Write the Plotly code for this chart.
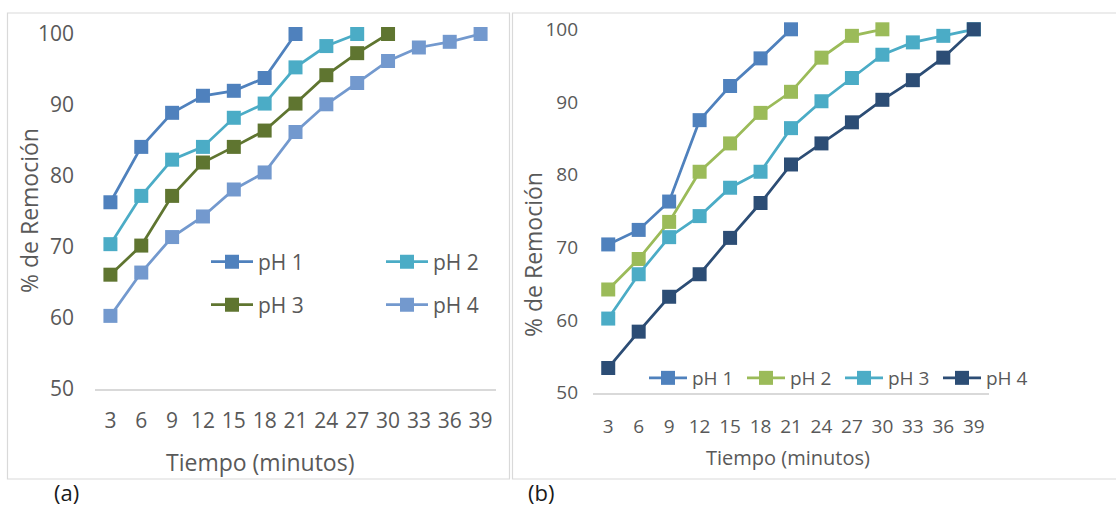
import plotly.graph_objects as go

W, H = 1116, 508

tiempo = ['3', '6', '9', '12', '15', '18', '21', '24', '27', '30', '33', '36', '39']
y_ticks = [50, 60, 70, 80, 90, 100]

# Panel (a)
a_ph1 = [76.3, 84.1, 88.9, 91.3, 92.0, 93.8, 100]
a_ph2 = [70.4, 77.2, 82.3, 84.1, 88.2, 90.2, 95.3, 98.3, 100]
a_ph3 = [66.1, 70.2, 77.2, 81.9, 84.1, 86.4, 90.2, 94.2, 97.3, 100]
a_ph4 = [60.3, 66.4, 71.4, 74.3, 78.1, 80.5, 86.2, 90.1, 93.1, 96.2, 98.1, 98.9, 100]

# Panel (b)
b_ph1 = [70.4, 72.4, 76.3, 87.5, 92.2, 96.0, 100]
b_ph2 = [64.2, 68.4, 73.5, 80.4, 84.3, 88.5, 91.4, 96.1, 99.1, 100]
b_ph3 = [60.2, 66.3, 71.4, 74.3, 78.2, 80.4, 86.4, 90.1, 93.3, 96.5, 98.2, 99.1, 100]
b_ph4 = [53.4, 58.4, 63.2, 66.3, 71.3, 76.1, 81.4, 84.3, 87.2, 90.3, 93.0, 96.1, 100]

names = ['pH 1', 'pH 2', 'pH 3', 'pH 4']
a_colors = ['#4F81BD', '#4BACC6', '#5F7530', '#7399CE']
b_colors = ['#4F81BD', '#9BBB59', '#4BACC6', '#2C4D75']

FONT = 'Open Sans'
TXT = '#595959'


def X(px):
    return px / W


def Y(py):
    return 1 - py / H


fig = go.Figure()

a_series = [a_ph1, a_ph2, a_ph3, a_ph4]
a_legends = ['legend', 'legend', 'legend2', 'legend2']
for name, vals, col, lg in zip(names, a_series, a_colors, a_legends):
    fig.add_trace(go.Scatter(
        x=tiempo[:len(vals)], y=vals, name=name, mode='lines+markers',
        line=dict(color=col, width=2.75),
        marker=dict(symbol='square', size=14, color=col),
        xaxis='x', yaxis='y', legend=lg, cliponaxis=False,
    ))

b_series = [b_ph1, b_ph2, b_ph3, b_ph4]
for name, vals, col in zip(names, b_series, b_colors):
    fig.add_trace(go.Scatter(
        x=tiempo[:len(vals)], y=vals, name=name, mode='lines+markers',
        line=dict(color=col, width=2.75),
        marker=dict(symbol='square', size=14, color=col),
        xaxis='x2', yaxis='y2', legend='legend3', cliponaxis=False,
    ))

common_x = dict(type='category', categoryorder='array', categoryarray=tiempo,
                range=[-0.5, len(tiempo) - 0.5], showgrid=False, zeroline=False,
                showline=True, linecolor='#D9D9D9', linewidth=1.5, ticks='',
                automargin=False)
common_y = dict(range=[50, 100], tickvals=y_ticks, showgrid=False, zeroline=False,
                showline=False, ticks='', automargin=False)

fig.update_layout(
    width=W, height=H, margin=dict(l=0, r=0, t=0, b=0, autoexpand=False),
    paper_bgcolor='white', plot_bgcolor='white',
    font=dict(family=FONT, color=TXT),
    xaxis=dict(domain=[X(95), X(496)], anchor='y', tickfont=dict(size=21, color=TXT),
               ticklabelstandoff=12, **common_x),
    yaxis=dict(domain=[Y(389), Y(34)], anchor='x', tickfont=dict(size=21, color=TXT),
               ticklabelstandoff=20, **common_y),
    xaxis2=dict(domain=[X(593), X(989)], anchor='y2', tickfont=dict(size=19, color=TXT),
                ticklabelstandoff=16, **common_x),
    yaxis2=dict(domain=[Y(392.7), Y(29.3)], anchor='x2', tickfont=dict(size=19, color=TXT),
                ticklabelstandoff=14, **common_y),
    legend=dict(orientation='h', x=X(206), y=Y(262), xanchor='left', yanchor='middle',
                entrywidth=118, itemwidth=42, font=dict(size=21, color=TXT),
                bgcolor='rgba(0,0,0,0)', traceorder='normal'),
    legend2=dict(orientation='h', x=X(206), y=Y(305), xanchor='left', yanchor='middle',
                 entrywidth=118, itemwidth=42, font=dict(size=21, color=TXT),
                 bgcolor='rgba(0,0,0,0)', traceorder='normal'),
    legend3=dict(orientation='h', x=X(644), y=Y(378), xanchor='left', yanchor='middle',
                 entrywidth=45, itemwidth=38, font=dict(size=19, color=TXT),
                 bgcolor='rgba(0,0,0,0)', traceorder='normal'),
    showlegend=True,
)

shapes = [
    dict(type='rect', xref='paper', yref='paper', x0=X(7.5), x1=X(509.5), y0=Y(479), y1=Y(13),
         line=dict(color='#D9D9D9', width=1.2), fillcolor='rgba(0,0,0,0)', layer='below'),
    dict(type='rect', xref='paper', yref='paper', x0=X(512.5), x1=X(1120), y0=Y(479), y1=Y(13),
         line=dict(color='#D9D9D9', width=1.2), fillcolor='rgba(0,0,0,0)', layer='below'),
]

annotations = [
    dict(text='Tiempo (minutos)', x=X(260), y=Y(462), xref='paper', yref='paper',
         showarrow=False, font=dict(size=23, color=TXT), xanchor='center', yanchor='middle'),
    dict(text='% de Remoción', x=X(29), y=Y(211), xref='paper', yref='paper', textangle=-90,
         showarrow=False, font=dict(size=23, color=TXT), xanchor='center', yanchor='middle'),
    dict(text='Tiempo (minutos)', x=X(788), y=Y(457), xref='paper', yref='paper',
         showarrow=False, font=dict(size=20, color=TXT), xanchor='center', yanchor='middle'),
    dict(text='% de Remoción', x=X(533), y=Y(255), xref='paper', yref='paper', textangle=-90,
         showarrow=False, font=dict(size=23, color=TXT), xanchor='center', yanchor='middle'),
    dict(text='(a)', x=X(66), y=Y(492), xref='paper', yref='paper',
         showarrow=False, font=dict(size=22, color='#1a1a1a'), xanchor='center', yanchor='middle'),
    dict(text='(b)', x=X(541), y=Y(492), xref='paper', yref='paper',
         showarrow=False, font=dict(size=22, color='#1a1a1a'), xanchor='center', yanchor='middle'),
]

fig.update_layout(shapes=shapes, annotations=annotations)

fig.write_html('out.html')
